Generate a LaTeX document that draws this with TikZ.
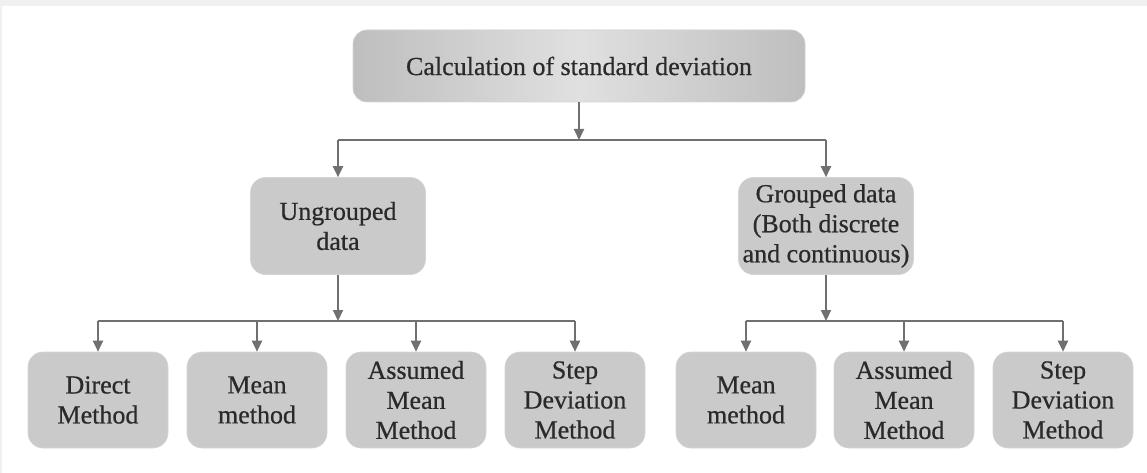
\documentclass[tikz,border=0pt]{standalone}
\usepackage{fontspec}
\setmainfont{Liberation Serif}
\newfontfamily\diagfont{Liberation Serif}[FakeBold=0.6]
\usetikzlibrary{arrows.meta}
\definecolor{boxgray}{HTML}{CACACA}
\definecolor{edgegray}{HTML}{BEBEBE}
\definecolor{centgray}{HTML}{E0E0E0}
\definecolor{linegray}{HTML}{707070}
\definecolor{stripgray}{HTML}{F0F0F0}
\definecolor{txt}{HTML}{2A2A2A}
\tikzset{
  box/.style={fill=boxgray, draw=boxgray!80!white, line width=0.6pt, rounded corners=15pt,
    minimum width=140pt, minimum height=96pt, align=center, text=txt,
    font=\diagfont\fontsize{26}{30}\selectfont, inner sep=2pt},
  midbox/.style={box, minimum width=175pt, minimum height=97pt},
  topbox/.style={box, minimum width=452pt, minimum height=72pt, rounded corners=14pt,
    left color=edgegray, right color=edgegray, middle color=centgray,
    font=\diagfont\fontsize{26}{30}\selectfont},
  conn/.style={draw=linegray, line width=2pt},
  arr/.style={conn, -{Triangle[length=11pt,width=10pt]}},
}
\begin{document}
\begin{tikzpicture}[x=1pt,y=-1pt]
\useasboundingbox (0,0) rectangle (1147,473);
\fill[white] (0,0) rectangle (1147,473);
\fill[stripgray] (0,0) rectangle (1147,6);
\fill[stripgray] (0,0) rectangle (2,473);

\node[topbox] (top) at (579,66) {Calculation of standard deviation};

\node[midbox] (ung) at (338,226) {Ungrouped\\data};
\node[midbox] (grp) at (826,226) {Grouped data\\(Both discrete\\and continuous)};

\node[box] (d1) at (98,400) {Direct\\Method};
\node[box] (d2) at (257,400) {Mean\\method};
\node[box] (d3) at (416,400) {Assumed\\Mean\\Method};
\node[box] (d4) at (575,400) {Step\\Deviation\\Method};
\node[box] (g1) at (746,400) {Mean\\method};
\node[box] (g2) at (904,400) {Assumed\\Mean\\Method};
\node[box] (g3) at (1063,400) {Step\\Deviation\\Method};

\coordinate (j0) at (579,140);
\coordinate (j1) at (338,321);
\coordinate (j2) at (826,321);

\draw[arr] (top.south) -- (top.south |- j0);
\draw[conn] (ung.north |- j0) -- (grp.north |- j0);
\draw[arr] (ung.north |- j0) -- (ung.north);
\draw[arr] (grp.north |- j0) -- (grp.north);

\draw[arr] (ung.south) -- (j1);
\draw[conn] (d1.north |- j1) -- (d4.north |- j1);
\foreach \n in {d1,d2,d3,d4} \draw[arr] (\n.north |- j1) -- (\n.north);

\draw[arr] (grp.south) -- (j2);
\draw[conn] (g1.north |- j2) -- (g3.north |- j2);
\foreach \n in {g1,g2,g3} \draw[arr] (\n.north |- j2) -- (\n.north);
\end{tikzpicture}
\end{document}
